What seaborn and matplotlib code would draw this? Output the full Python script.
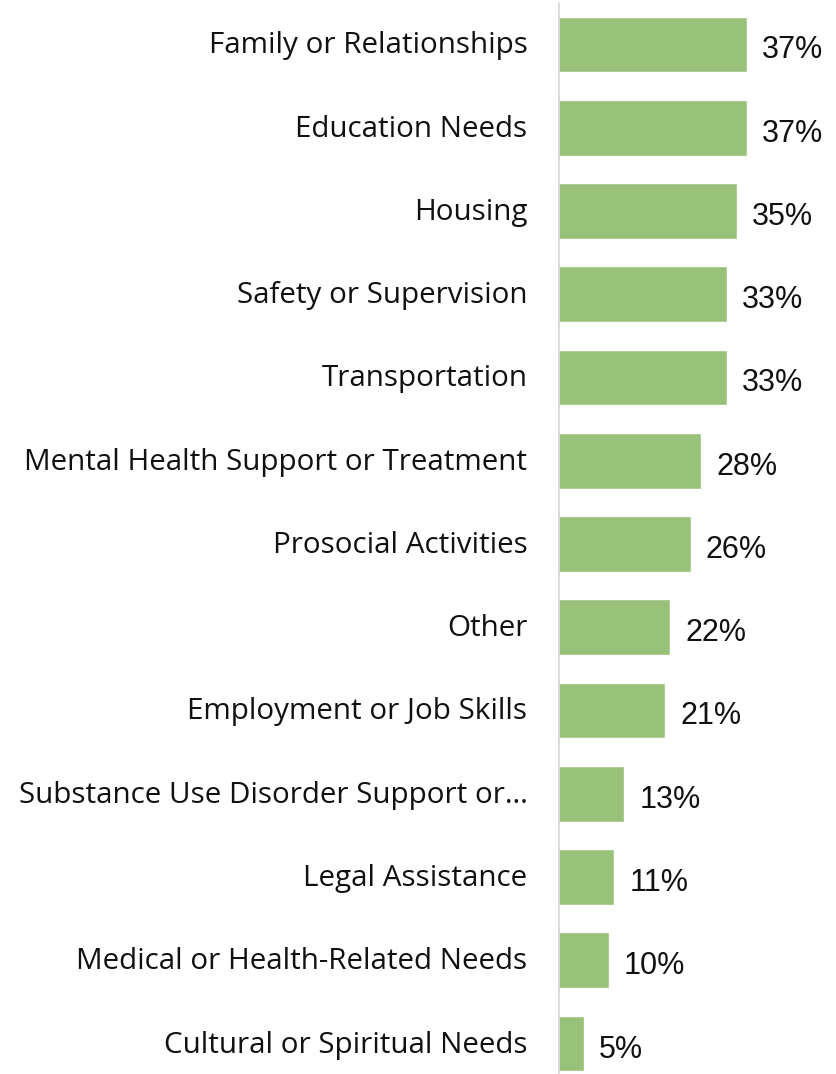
import matplotlib
matplotlib.use("Agg")
import matplotlib.pyplot as plt
import matplotlib.transforms as mtransforms
import seaborn as sns
import pandas as pd

categories = [
    "Family or Relationships",
    "Education Needs",
    "Housing",
    "Safety or Supervision",
    "Transportation",
    "Mental Health Support or Treatment",
    "Prosocial Activities",
    "Other",
    "Employment or Job Skills",
    "Substance Use Disorder Support or…",
    "Legal Assistance",
    "Medical or Health-Related Needs",
    "Cultural or Spiritual Needs",
]
values = [37, 37, 35, 33, 33, 28, 26, 22, 21, 13, 11, 10, 5]
value_labels = [f"{v}%" for v in values]

df = pd.DataFrame({"category": categories, "value": values})

sns.set_theme(style="white")
W, H = 836, 1074
fig = plt.figure(figsize=(W / 100, H / 100), dpi=100)
ax_left = 558 / W
ax = fig.add_axes([ax_left, 0, 1 - ax_left, 1])

sns.barplot(data=df, y="category", x="value", orient="h", color="#98C17A",
            saturation=1, width=0.67, ax=ax)

px_per_unit = 189 / 37
ax.set_xlim(0, (W - 558) / px_per_unit)
pitch = 83.25
ax.set_ylim((H - 44.5) / pitch, -44.5 / pitch)

for s in ax.spines.values():
    s.set_visible(False)
ax.axvline(0, ymin=0, ymax=1 - 3 / H, color="#d9d9d9", lw=2)

ax.set_xticks([])
ax.set_yticks(range(len(categories)))
ax.set_yticklabels(categories, fontsize=21.3, family=["Open Sans", "DejaVu Sans"], color="#111111")
ax.tick_params(axis="y", length=0, pad=22)
shift = mtransforms.ScaledTranslation(0, 2 / 100, fig.dpi_scale_trans)
for t in ax.get_yticklabels():
    t.set_transform(t.get_transform() + shift)
ax.set_xlabel("")
ax.set_ylabel("")

for i, (v, lab) in enumerate(zip(values, value_labels)):
    ax.annotate(lab, xy=(v, i), xytext=(15, -6), textcoords="offset pixels",
                ha="left", va="center", fontsize=22, family=["Liberation Sans", "DejaVu Sans"],
                color="#111111")

fig.savefig("out.png", dpi=100)
